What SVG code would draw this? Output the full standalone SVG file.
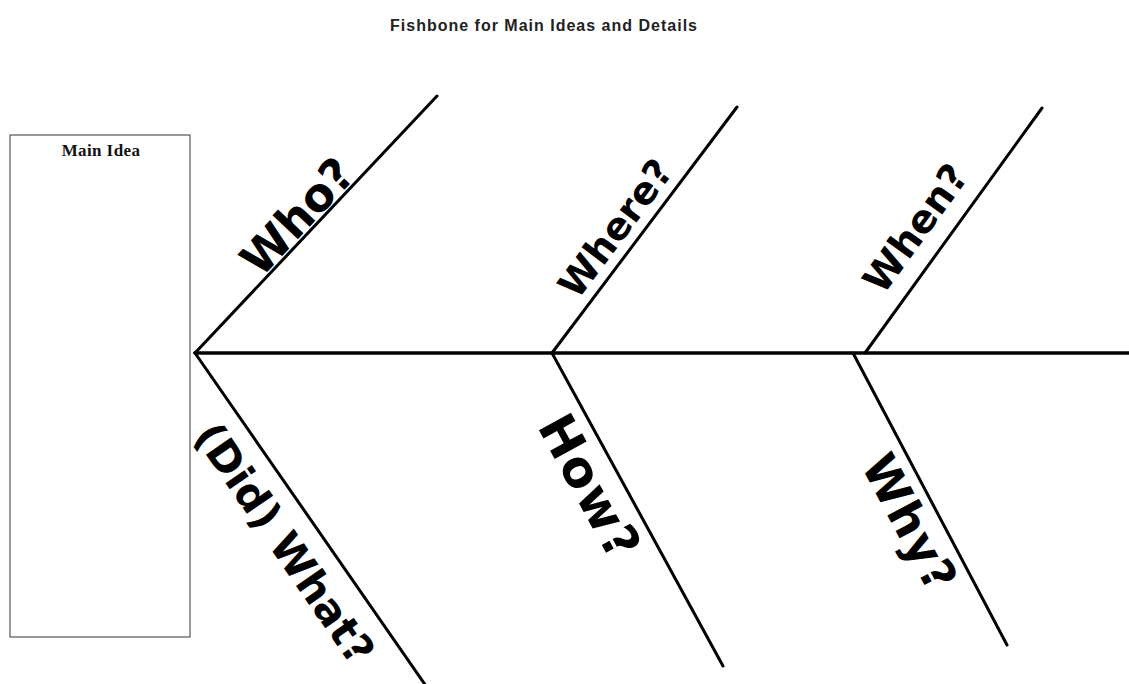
<svg xmlns="http://www.w3.org/2000/svg" width="1129" height="684" viewBox="0 0 1129 684">
<style>
.bone{stroke:#000;stroke-width:3;fill:none;stroke-linecap:round}
.lbl{font-family:"DejaVu Sans",Verdana,sans-serif;font-weight:bold;fill:#000;text-anchor:middle}
.title{font-family:"Liberation Sans",Arial,sans-serif;font-weight:bold;font-size:16px;letter-spacing:1px;fill:#222;text-anchor:middle}
.main{font-family:"Liberation Serif","Times New Roman",serif;font-weight:bold;font-size:17px;letter-spacing:0.4px;fill:#111;text-anchor:middle}
</style>
<rect width="1129" height="684" fill="#fff"/>
<text class="title" x="544" y="31">Fishbone for Main Ideas and Details</text>
<g id="main-idea">
<rect x="10" y="135" width="180" height="502" fill="#fff" stroke="#555" stroke-width="1.2"/>
<text class="main" x="101" y="156">Main Idea</text>
</g>
<g id="connectors">
<line class="bone" x1="195" y1="353" x2="1129" y2="353" style="stroke-width:3.5"/>
<line class="bone" x1="195" y1="353" x2="437" y2="96"/>
<line class="bone" x1="195" y1="353" x2="426" y2="686"/>
<line class="bone" x1="552" y1="353" x2="737" y2="107"/>
<line class="bone" x1="552" y1="353" x2="723" y2="666"/>
<line class="bone" x1="865" y1="353" x2="1042" y2="108"/>
<line class="bone" x1="853" y1="353" x2="1007" y2="645"/>
</g>
<g id="who"><text class="lbl" font-size="46" textLength="141" lengthAdjust="spacing" transform="translate(297,216) rotate(-46.7)" dy="0.36em">Who?</text></g>
<g id="where"><text class="lbl" font-size="38" transform="translate(615,228) rotate(-53.1)" dy="0.36em">Where?</text></g>
<g id="when"><text class="lbl" font-size="39" transform="translate(915,228) rotate(-54)" dy="0.36em">When?</text></g>
<g id="what"><text class="lbl" font-size="42" transform="translate(285,543) rotate(55.5)" dy="0.36em">(Did) What?</text></g>
<g id="how"><text class="lbl" font-size="50" textLength="156" lengthAdjust="spacing" transform="translate(590,486) rotate(61.3)" dy="0.36em">How?</text></g>
<g id="why"><text class="lbl" font-size="47" textLength="147" lengthAdjust="spacing" transform="translate(910,522) rotate(62)" dy="0.36em">Why?</text></g>
</svg>
